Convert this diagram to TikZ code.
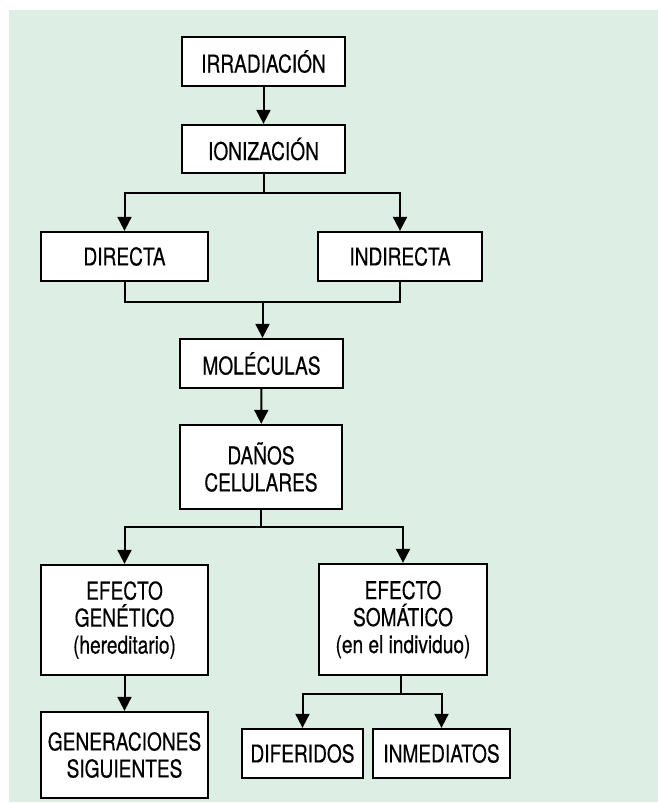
\documentclass[tikz,border=0pt]{standalone}
\usepackage{fontspec}
\setmainfont{TeX Gyre Heros}[FakeStretch=0.78, FakeBold=0.35]
\usetikzlibrary{arrows.meta}
\definecolor{mintbg}{RGB}{221,239,228}

\tikzset{
  box/.style={draw, fill=white, line width=2.3pt, align=center, inner sep=0pt,
    font=\fontsize{24.5}{27}\selectfont},
  link/.style={line width=2pt},
}

\begin{document}
\begin{tikzpicture}[x=1pt, y=-1pt, >={Triangle[width=14pt,length=14pt]}]
  \useasboundingbox (0, 0) rectangle (658, 803);
  \fill[mintbg] (9, 10) rectangle (658, 802);
  % boxes
  \node[box, minimum width=163pt, minimum height=49pt] (irr) at (263.5, 61.5) {IRRADIACIÓN};
  \node[box, minimum width=163pt, minimum height=48pt] (ion) at (263.5, 149) {IONIZACIÓN};
  \node[box, minimum width=167pt, minimum height=49pt] (dir) at (124.5, 256.5) {DIRECTA};
  \node[box, minimum width=164pt, minimum height=49pt] (ind) at (400, 256.5) {INDIRECTA};
  \node[box, minimum width=163pt, minimum height=49pt] (mol) at (261.5, 363.5) {MOLÉCULAS};
  \node[box, minimum width=162pt, minimum height=84pt] (dan) at (261, 467) {DAÑOS\\CELULARES};
  \node[box, minimum width=167pt, minimum height=110pt] (gen) at (124.5, 620) {EFECTO\\GENÉTICO\\(hereditario)};
  \node[box, minimum width=168pt, minimum height=111pt] (som) at (403, 619.5) {EFECTO\\SOMÁTICO\\(en el individuo)};
  \node[box, minimum width=167pt, minimum height=86pt] (sig) at (124.5, 755) {GENERACIONES\\SIGUIENTES};
  \node[box, minimum width=121pt, minimum height=49pt] (dif) at (302.5, 753.5) {DIFERIDOS};
  \node[box, minimum width=137pt, minimum height=49pt] (inm) at (441.5, 753.5) {INMEDIATOS};
  % junctions
  \coordinate (j1) at (263.5, 193);
  \coordinate (j2) at (262.5, 302);
  \coordinate (j3) at (261, 527);
  \coordinate (j4) at (401, 694);
  % connectors
  \draw[link, ->] (irr) -- (ion);
  \draw[link] (ion) -- (j1);
  \draw[link, ->] (j1) -| (dir);
  \draw[link, ->] (j1) -| (ind);
  \draw[link] (dir) |- (j2) -| (ind);
  \draw[link, ->] (j2) -- (j2 |- mol.north);
  \draw[link, ->] (mol) -- (dan);
  \draw[link] (dan) -- (j3);
  \draw[link, ->] (j3) -| (gen);
  \draw[link, ->] (j3) -| (som);
  \draw[link, ->] (gen) -- (sig);
  \draw[link] (j4 |- som.south) -- (j4);
  \draw[link, ->] (j4) -| (dif);
  \draw[link, ->] (j4) -| (inm);
\end{tikzpicture}
\end{document}
